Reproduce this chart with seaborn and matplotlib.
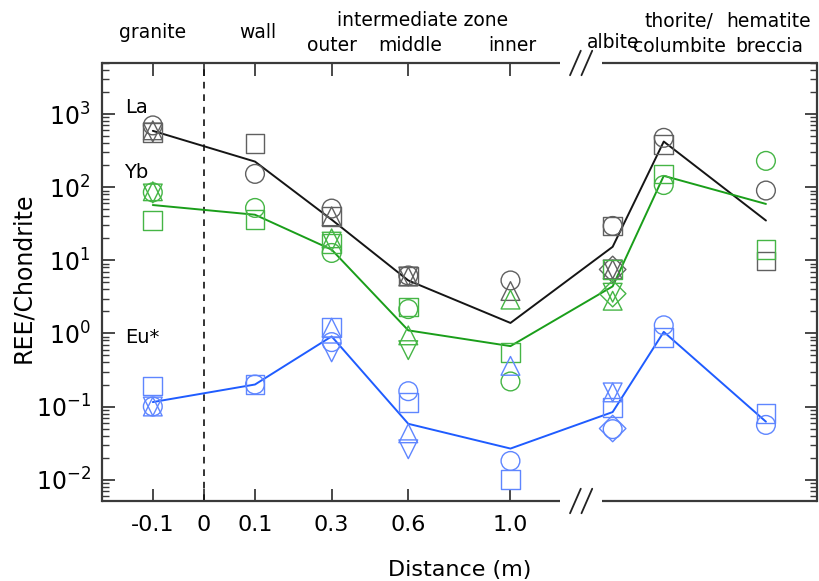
import numpy as np
import pandas as pd
import matplotlib
matplotlib.use("Agg")
import matplotlib.pyplot as plt
import seaborn as sns

nan = np.nan

# ---------------- data ----------------
sites = ["granite", "wall", "outer", "middle", "inner", "albite", "thorite", "hematite"]
site_pos = [0, 2, 3.5, 5, 7, 9, 10, 12]
zero_pos = 1
tick_pos = [0, 1, 2, 3.5, 5, 7]
tick_labels = ["-0.1", "0", "0.1", "0.3", "0.6", "1.0"]

# line (average) values
la_line = [590, 224, 36, 5.3, 1.39, 15.3, 421, 35]
yb_line = [57, 42, 14, 1.1, 0.67, 4.4, 143, 59]
eu_line = [0.115, 0.2, 0.91, 0.058, 0.0266, 0.084, 1.05, 0.062]

# individual samples (marker type per sample)
la_circle = [700, 152, 51, 6.2, 5.3, 29.5, 473, 90]
la_square = [560, 400, 40, 6.1, nan, 29.5, 383, 9.8]
la_tri_up = [600, nan, 40, 6.0, 3.8, 7.5, nan, nan]
la_tri_down = [560, nan, nan, 6.0, nan, 7.5, nan, nan]
la_diamond = [nan, nan, nan, nan, nan, 7.5, nan, nan]

yb_circle = [85, 52, 12.6, 2.15, 0.22, nan, 107, 229]
yb_square = [35, 36, 17, 2.3, 0.55, 7.5, 152, 13.9]
yb_tri_up = [88, nan, 20, 0.94, 2.9, 2.8, nan, nan]
yb_tri_down = [82, nan, 18, 0.59, nan, 3.6, nan, nan]
yb_diamond = [nan, nan, nan, nan, nan, 3.5, nan, nan]

eu_circle = [0.10, 0.20, 0.76, 0.162, 0.018, 0.049, 1.29, 0.056]
eu_square = [0.19, 0.20, 1.2, 0.113, 0.010, 0.098, 0.885, 0.080]
eu_tri_up = [0.10, nan, 1.2, 0.043, 0.36, 0.156, nan, nan]
eu_tri_down = [0.10, nan, 0.55, 0.026, nan, 0.156, nan, nan]
eu_diamond = [nan, nan, nan, nan, nan, 0.05, nan, nan]

elements = ["La", "Yb", "Eu*"]
line_colors = {"La": "#151515", "Yb": "#1a9e1a", "Eu*": "#1f5cff"}
marker_colors = {"La": "#606060", "Yb": "#45b545", "Eu*": "#5f86ff"}
marker_shapes = {"circle": "o", "square": "s", "tri_up": "^", "tri_down": "v", "diamond": "D"}

samples = {
    "La": {"circle": la_circle, "square": la_square, "tri_up": la_tri_up,
           "tri_down": la_tri_down, "diamond": la_diamond},
    "Yb": {"circle": yb_circle, "square": yb_square, "tri_up": yb_tri_up,
           "tri_down": yb_tri_down, "diamond": yb_diamond},
    "Eu*": {"circle": eu_circle, "square": eu_square, "tri_up": eu_tri_up,
            "tri_down": eu_tri_down, "diamond": eu_diamond},
}
lines = {"La": la_line, "Yb": yb_line, "Eu*": eu_line}

line_df = pd.concat([
    pd.DataFrame({"pos": site_pos, "value": lines[e], "element": e})
    for e in elements
])

rows = []
for e in elements:
    for mk, vals in samples[e].items():
        for p, v in zip(site_pos, vals):
            if not np.isnan(v):
                rows.append({"pos": p, "value": v, "element": e, "marker": mk})
pts_df = pd.DataFrame(rows)

# ---------------- style ----------------
sns.set_style("ticks")
plt.rcParams["font.family"] = ["DejaVu Sans"]
plt.rcParams["mathtext.fontset"] = "dejavusans"
plt.rcParams["text.color"] = "black"
plt.rcParams["axes.labelcolor"] = "black"
plt.rcParams["xtick.labelcolor"] = "black"
plt.rcParams["ytick.labelcolor"] = "black"

spine_col = "#3a3a3a"

fig = plt.figure(figsize=(8.19, 5.81), dpi=100)
ax = fig.add_axes([0.1242, 0.1377, 0.8734, 0.7539])
ax.set_yscale("log")

sns.lineplot(data=line_df, x="pos", y="value", hue="element", palette=line_colors,
             sort=False, estimator=None, units="element", linewidth=1.4,
             legend=False, ax=ax, zorder=2)

for e in elements:
    for mk in marker_shapes:
        sub = pts_df[(pts_df.element == e) & (pts_df.marker == mk)]
        if sub.empty:
            continue
        sns.scatterplot(data=sub, x="pos", y="value", marker=marker_shapes[mk],
                        s=182, color=marker_colors[e], linewidth=1.0,
                        legend=False, ax=ax, zorder=3)
        coll = ax.collections[-1]
        coll.set_facecolor("none")
        coll.set_edgecolor(marker_colors[e])
        coll.set_linewidth(1.0)

ax.axvline(zero_pos, color="#111111", lw=1.2, linestyle=(0, (4, 3.5)), zorder=1)

ax.set_xlim(-1, 13)
ax.set_ylim(0.0051, 5000)
ax.set_xticks(tick_pos)
ax.set_xticklabels(tick_labels)
ax.tick_params(axis="x", which="major", direction="in", length=9, width=1.3,
               top=True, bottom=True, labelsize=16, pad=10, color=spine_col,
               labelcolor="black")
ax.tick_params(axis="x", which="minor", bottom=False, top=False)
ax.tick_params(axis="y", which="major", direction="in", length=9, width=1.3,
               left=True, right=True, labelsize=17, pad=8, color=spine_col,
               labelcolor="black")
ax.tick_params(axis="y", which="minor", direction="in", length=5, width=1.0,
               left=True, right=True, color=spine_col)
ax.yaxis.set_major_locator(matplotlib.ticker.LogLocator(base=10, numticks=20))
ax.yaxis.set_minor_locator(matplotlib.ticker.LogLocator(base=10, subs=np.arange(2, 10), numticks=20))
ax.yaxis.set_minor_formatter(matplotlib.ticker.NullFormatter())

ax.set_xlabel("Distance (m)", fontsize=16, labelpad=18, color="black")
ax.set_ylabel("REE/Chondrite", fontsize=17, color="black")
ax.yaxis.set_label_coords(-0.093, 0.51)

# spines with axis break
for s in ["left", "right"]:
    ax.spines[s].set_color(spine_col)
    ax.spines[s].set_linewidth(1.6)
ax.spines["top"].set_visible(False)
ax.spines["bottom"].set_visible(False)
brk0, brk1 = 0.6407, 0.6994
for yy in (0, 1):
    ax.plot([0, brk0], [yy, yy], transform=ax.transAxes, color=spine_col, lw=1.6,
            clip_on=False, solid_capstyle="butt")
    ax.plot([brk1, 1], [yy, yy], transform=ax.transAxes, color=spine_col, lw=1.6,
            clip_on=False, solid_capstyle="butt")
for yc in (0.0, 1.0):
    for x0 in (0.6547, 0.6707):
        ax.plot([x0, x0 + 0.015], [yc - 0.028, yc + 0.028], transform=ax.transAxes,
                color="#222222", lw=1.3, clip_on=False)

# element labels
ax.text(-0.32, 1220, "La", fontsize=14, ha="center", va="center", color="black")
ax.text(-0.32, 157, "Yb", fontsize=14, ha="center", va="center", color="black")
ax.text(-0.2, 0.88, "Eu*", fontsize=14, ha="center", va="center", color="black")

# zone labels above the plot
tr = ax.get_xaxis_transform()
zone_labels = [
    ("granite", 0.0, 1.0685), ("wall", 2.05, 1.0685),
    ("intermediate zone", 5.27, 1.098), ("outer", 3.5, 1.041),
    ("middle", 5.03, 1.041), ("inner", 7.03, 1.041), ("albite", 9.0, 1.046),
    ("thorite/", 10.3, 1.094), ("columbite", 10.3, 1.0365),
    ("hematite", 12.05, 1.094), ("breccia", 12.07, 1.0365),
]
for txt, xx, yy in zone_labels:
    ax.text(xx, yy, txt, transform=tr, fontsize=13.5, ha="center", va="center",
            color="black")

fig.savefig("out.png", dpi=100)
